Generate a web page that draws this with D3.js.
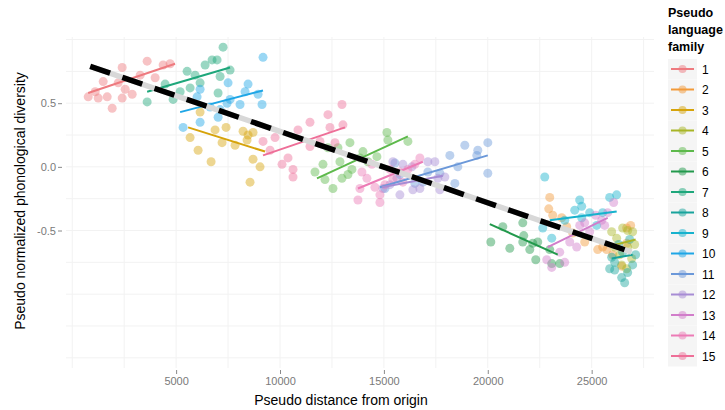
<!DOCTYPE html>
<html lang="en">
<head>
    <meta charset="UTF-8">
    <title>Pseudo phonological diversity</title>
    <script src="https://d3js.org/d3.v7.min.js"></script>
    <style>
        body {
            margin: 0;
            background-color: #ffffff;
            font-family: "Liberation Sans", Arial, sans-serif;
        }
        svg { display: block; }
    </style>
</head>
<body>
    <div id="chart"></div>
    <script>
        // language families (legend order)
        const families = ["1", "2", "3", "4", "5", "6", "7", "8", "9", "10", "11", "12", "13", "14", "15"];

        // points per family
        const pointsX = [
            [769, 1106, 1250, 1683, 1923, 1490, 2404, 2548, 2404, 2212, 3606, 3269, 4375, 4712, 3990, 2885],
            [22982, 22934, 23126, 23559, 23799, 24088, 24665, 25290, 25530, 25722, 26011, 26444, 26684, 26876, 26684],
            [5673, 6058, 6683, 6154, 7212, 7404, 8222, 8462, 8702, 8414, 8702, 9039, 8558, 7837, 6875],
            [25962, 26203, 26491, 26732, 26972, 26107, 26347, 26732, 26924, 26443, 26684, 27068],
            [11683, 12068, 12164, 12548, 12789, 12308, 12885, 12982, 13270, 13462, 13847, 13991, 14231, 14664, 15145, 15193, 16155, 13366],
            [20146, 20723, 21060, 21684, 21732, 21684, 22021, 22165, 22309, 22405, 22982, 23078, 23463],
            [3606, 4856, 5193, 5529, 5914, 6154, 6395, 6731, 6972, 7260, 7597, 7116, 7020, 4471, 5673],
            [25962, 26107, 26443, 26588, 26828, 26491, 26732, 26107, 26972, 26299, 27116, 25866],
            [22742, 22646, 23078, 23703, 24424, 24520, 24520, 24905, 25241, 25530, 25866, 26203, 24184],
            [5337, 6154, 6154, 6010, 6635, 7020, 7116, 7500, 7597, 7452, 8318, 8462, 8943, 9135, 9183, 8077],
            [15049, 15530, 15770, 16491, 16876, 17116, 17693, 18174, 18415, 18559, 18895, 19472, 19520, 20001, 20001],
            [14953, 15289, 15433, 15626, 15770, 15914, 16347, 16395, 16732, 17116, 17453, 17597, 17693, 17934],
            [22838, 23078, 23463, 23703, 23944, 24280, 24424, 24665, 24905, 25482, 25626, 25770, 26059, 25193],
            [13751, 13847, 13943, 14183, 14424, 14568, 14808, 14808, 15289, 15433, 15770, 15914, 16155, 16491, 16732, 15049],
            [9183, 9760, 10385, 10097, 10626, 10626, 10866, 11443, 12308, 12982, 12404, 13029, 11924, 12645, 11443, 9520]
        ];
        const pointsY = [
            [0.55, 0.59, 0.54, 0.55, 0.46, 0.67, 0.78, 0.61, 0.54, 0.66, 0.83, 0.72, 0.80, 0.81, 0.70, 0.57],
            [-0.24, -0.33, -0.38, -0.40, -0.47, -0.52, -0.59, -0.65, -0.63, -0.65, -0.69, -0.78, -0.48, -0.46, -0.60],
            [0.23, 0.13, 0.04, 0.43, 0.19, 0.31, 0.28, 0.25, 0.27, 0.21, 0.06, 0.00, -0.12, 0.17, 0.29],
            [-0.51, -0.56, -0.48, -0.50, -0.51, -0.63, -0.69, -0.63, -0.72, -0.77, -0.80, -0.61],
            [-0.04, 0.02, -0.10, -0.17, 0.15, 0.15, 0.04, -0.09, -0.06, -0.02, 0.07, 0.12, 0.04, 0.08, 0.27, 0.21, 0.20, 0.19],
            [-0.59, -0.47, -0.64, -0.44, -0.54, -0.59, -0.65, -0.60, -0.73, -0.59, -0.65, -0.76, -0.76],
            [0.51, 0.53, 0.59, 0.75, 0.72, 0.66, 0.80, 0.84, 0.84, 0.94, 0.76, 0.71, 0.58, 0.65, 0.62],
            [-0.71, -0.81, -0.87, -0.91, -0.57, -0.67, -0.83, -0.75, -0.77, -0.61, -0.69, -0.80],
            [-0.08, -0.48, -0.56, -0.42, -0.26, -0.31, -0.40, -0.36, -0.46, -0.36, -0.24, -0.22, -0.34],
            [0.31, 0.35, 0.61, 0.55, 0.47, 0.39, 0.45, 0.66, 0.53, 0.50, 0.59, 0.65, 0.57, 0.49, 0.86, 0.49],
            [-0.17, 0.03, -0.06, -0.13, -0.12, -0.04, -0.05, 0.09, -0.13, 0.00, 0.17, 0.09, 0.13, 0.19, -0.05],
            [-0.17, -0.14, 0.04, -0.09, -0.22, 0.02, 0.00, -0.18, -0.17, 0.04, 0.04, -0.09, -0.18, -0.08],
            [-0.73, -0.79, -0.67, -0.75, -0.59, -0.63, -0.46, -0.44, -0.51, -0.42, -0.46, -0.36, -0.28, -0.38],
            [-0.26, -0.17, -0.04, -0.09, 0.02, -0.16, -0.22, -0.28, -0.02, -0.10, -0.04, -0.12, -0.02, 0.02, 0.07, -0.14],
            [0.20, 0.23, 0.07, 0.02, -0.02, -0.08, 0.29, 0.35, 0.41, 0.49, 0.31, 0.33, 0.20, 0.19, 0.16, 0.13]
        ];

        // per-family fitted lines (start / end)
        const fitX0 = [769, 22982, 5577, 25962, 11780, 20098, 3606, 25962, 22982, 5193, 14808, 14905, 22886, 13751, 9183];
        const fitY0 = [0.58, -0.44, 0.31, -0.62, -0.09, -0.45, 0.59, -0.72, -0.42, 0.43, -0.16, -0.16, -0.63, -0.17, 0.09];
        const fitX1 = [4950, 26828, 9279, 27116, 16155, 23367, 7597, 26972, 26203, 9183, 20001, 17838, 25770, 16876, 13125];
        const fitY1 = [0.81, -0.67, 0.12, -0.57, 0.24, -0.69, 0.78, -0.69, -0.35, 0.60, 0.09, -0.07, -0.40, 0.04, 0.31];

        // overall trend
        const trendX = [865, 26924];
        const trendY = [0.79, -0.67];

        const xTicks = [5000, 10000, 15000, 20000, 25000];
        const yTicks = [-0.5, 0, 0.5];
        const yTickLabels = ["-0.5", "0.0", "0.5"];
        const xGrid = d3.range(0, 28000, 2500);
        const yGrid = d3.range(-1.5, 1.01, 0.25);

        const palette = ["#ee7a7f", "#f29a3a", "#d6a30a", "#a8b526", "#5db94b", "#22994c", "#1ea77b",
                         "#18a39c", "#17b2cd", "#1ea6e6", "#6b98d9", "#a78cd4", "#d17dca", "#ec7bb6", "#ee6f98"];

        const width = 725, height = 410;
        const svg = d3.select("#chart").append("svg")
            .attr("width", width)
            .attr("height", height);

        const x = d3.scaleLinear().domain([-300, 28000]).range([66, 654]);
        const y = d3.scaleLinear().domain([-1.58, 1.02]).range([368, 37]);
        const color = d3.scaleOrdinal().domain(families).range(palette);

        // grid
        svg.append("g").selectAll("line").data(xGrid).join("line")
            .attr("x1", d => x(d)).attr("x2", d => x(d))
            .attr("y1", y.range()[0]).attr("y2", y.range()[1])
            .attr("stroke", "#f2f2f2").attr("stroke-width", 1);
        svg.append("g").selectAll("line").data(yGrid).join("line")
            .attr("y1", d => y(d)).attr("y2", d => y(d))
            .attr("x1", x.range()[0]).attr("x2", x.range()[1])
            .attr("stroke", "#f2f2f2").attr("stroke-width", 1);

        // axes
        const xAxis = svg.append("g")
            .attr("transform", `translate(0,${y.range()[0] + 2})`)
            .call(d3.axisBottom(x).tickValues(xTicks).tickSize(4).tickPadding(3).tickFormat(d3.format("d")));
        const yAxis = svg.append("g")
            .attr("transform", `translate(${x.range()[0] - 4},0)`)
            .call(d3.axisLeft(y).tickValues(yTicks).tickSize(4).tickPadding(2).tickFormat((d, i) => yTickLabels[i]));
        [xAxis, yAxis].forEach(a => {
            a.select(".domain").remove();
            a.selectAll(".tick line").attr("stroke", "#8a8a8a");
            a.selectAll(".tick text").attr("fill", "#7a7a7a")
                .style("font-family", "'Liberation Sans', Arial, sans-serif")
                .style("font-size", "11px");
        });

        // points
        const pts = families.flatMap((f, i) => pointsX[i].map((px, j) => ({ f, x: px, y: pointsY[i][j] })));
        svg.append("g").selectAll("circle").data(pts).join("circle")
            .attr("cx", d => x(d.x))
            .attr("cy", d => y(d.y))
            .attr("r", 4.5)
            .attr("fill", d => color(d.f))
            .attr("fill-opacity", 0.45);

        // family fit lines
        svg.append("g").selectAll("line").data(families).join("line")
            .attr("x1", (d, i) => x(fitX0[i])).attr("y1", (d, i) => y(fitY0[i]))
            .attr("x2", (d, i) => x(fitX1[i])).attr("y2", (d, i) => y(fitY1[i]))
            .attr("stroke", d => color(d))
            .attr("stroke-width", 2);

        // overall trend: grey underlay + black dashes
        const trend = d3.line().x(d => x(d[0])).y(d => y(d[1]));
        const trendPts = trendX.map((v, i) => [v, trendY[i]]);
        svg.append("path").datum(trendPts).attr("d", trend)
            .attr("stroke", "#d8d8d8").attr("stroke-width", 5.5).attr("fill", "none");
        svg.append("path").datum(trendPts).attr("d", trend)
            .attr("stroke", "#000").attr("stroke-width", 5.5).attr("fill", "none")
            .attr("stroke-dasharray", "21,13");

        // axis titles
        svg.append("text")
            .attr("x", 341).attr("y", 405)
            .attr("text-anchor", "middle")
            .style("font-size", "14px")
            .text("Pseudo distance from origin");
        svg.append("text")
            .attr("transform", "translate(25,201) rotate(-90)")
            .attr("text-anchor", "middle")
            .style("font-size", "14px")
            .text("Pseudo normalized phonological diversity");

        // legend
        const legend = svg.append("g");
        ["Pseudo", "language", "family"].forEach((t, i) => {
            legend.append("text")
                .attr("x", 668).attr("y", 17 + i * 17)
                .style("font-size", "12.5px").style("font-weight", "bold")
                .text(t);
        });
        const rowY = d3.scaleLinear().domain([0, 14]).range([69, 356]);
        const rows = legend.selectAll("g.key").data(families).join("g")
            .attr("class", "key")
            .attr("transform", (d, i) => `translate(0,${rowY(i)})`);
        rows.append("rect")
            .attr("x", 668).attr("y", -10).attr("width", 29).attr("height", 20.5)
            .attr("fill", "#f5f5f5");
        rows.append("line")
            .attr("x1", 671).attr("x2", 694).attr("y1", 0).attr("y2", 0)
            .attr("stroke", d => color(d)).attr("stroke-width", 2);
        rows.append("circle")
            .attr("cx", 682.5).attr("cy", 0).attr("r", 4)
            .attr("fill", d => color(d)).attr("fill-opacity", 0.5);
        rows.append("text")
            .attr("x", 702).attr("y", 4.5)
            .style("font-size", "12px")
            .text(d => d);
    </script>
</body>
</html>
